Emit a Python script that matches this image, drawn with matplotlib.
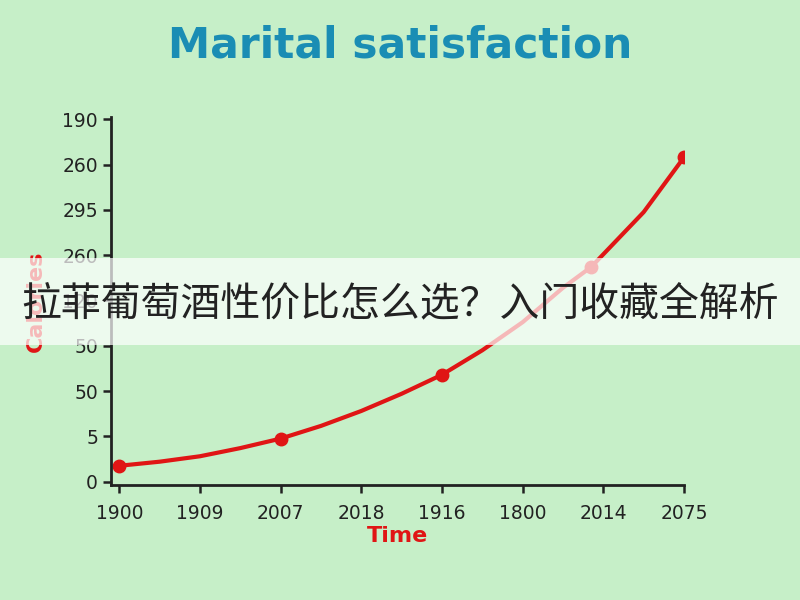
import matplotlib.pyplot as plt
from matplotlib.patches import Rectangle

# Data (tick labels are categorical, read as printed on the chart)
x_labels = ["1900", "1909", "2007", "2018", "1916", "1800", "2014", "2075"]
y_labels = ["0", "5", "50", "50", "120", "260", "295", "260", "190"]

# curve, in tick-position units
curve_x = [0, 0.5, 1, 1.5, 2, 2.5, 3, 3.5, 4, 4.5, 5, 5.5, 5.85, 6.5, 7]
curve_y = [0.35, 0.44, 0.56, 0.74, 0.95, 1.23, 1.56, 1.94, 2.36, 2.90, 3.52, 4.28, 4.74, 5.95, 7.16]
marker_x = [0, 2, 4, 5.85, 7]
marker_y = [0.35, 0.95, 2.36, 4.74, 7.16]

bg = "#c6efc8"
red = "#e01515"

fig = plt.figure(figsize=(8, 6), dpi=100, facecolor=bg)
ax = fig.add_axes([0.139, 0.192, 0.716, 0.613])
ax.set_facecolor(bg)

ax.plot(curve_x, curve_y, color=red, lw=3, solid_capstyle="round", solid_joinstyle="round")
ax.plot(marker_x, marker_y, "o", color=red, ms=9)

ax.set_xlim(-0.1, 7)
ax.set_ylim(-0.07, 8.05)
ax.set_xticks(range(len(x_labels)))
ax.set_xticklabels(x_labels)
ax.set_yticks(range(len(y_labels)))
ax.set_yticklabels(y_labels)
ax.tick_params(axis="both", labelsize=13.5, colors="#222222", width=1.8, length=6)
ax.tick_params(axis="x", pad=8)

for s in ["top", "right"]:
    ax.spines[s].set_visible(False)
for s in ["left", "bottom"]:
    ax.spines[s].set_linewidth(2)
    ax.spines[s].set_color("#222222")

ax.set_xlabel("Time", color=red, fontsize=16, fontweight="bold", labelpad=2)
ax.set_ylabel("Calories", color=red, fontsize=16, fontweight="bold", labelpad=12)

fig.text(0.5, 0.925, "Marital satisfaction", ha="center", va="center",
         fontsize=30.5, fontweight="bold", color="#1a8db4")

# overlay banner
fig.patches.append(Rectangle((0, 0.425), 1, 0.145, transform=fig.transFigure,
                             facecolor="white", alpha=0.7, edgecolor="none", zorder=5))
fig.text(0.5, 0.493, "拉菲葡萄酒性价比怎么选？入门收藏全解析", ha="center", va="center",
         fontsize=28.7, color="#222222", family=["Noto Sans CJK SC", "DejaVu Sans"], zorder=6)

fig.savefig("out.png", dpi=100, facecolor=bg)
